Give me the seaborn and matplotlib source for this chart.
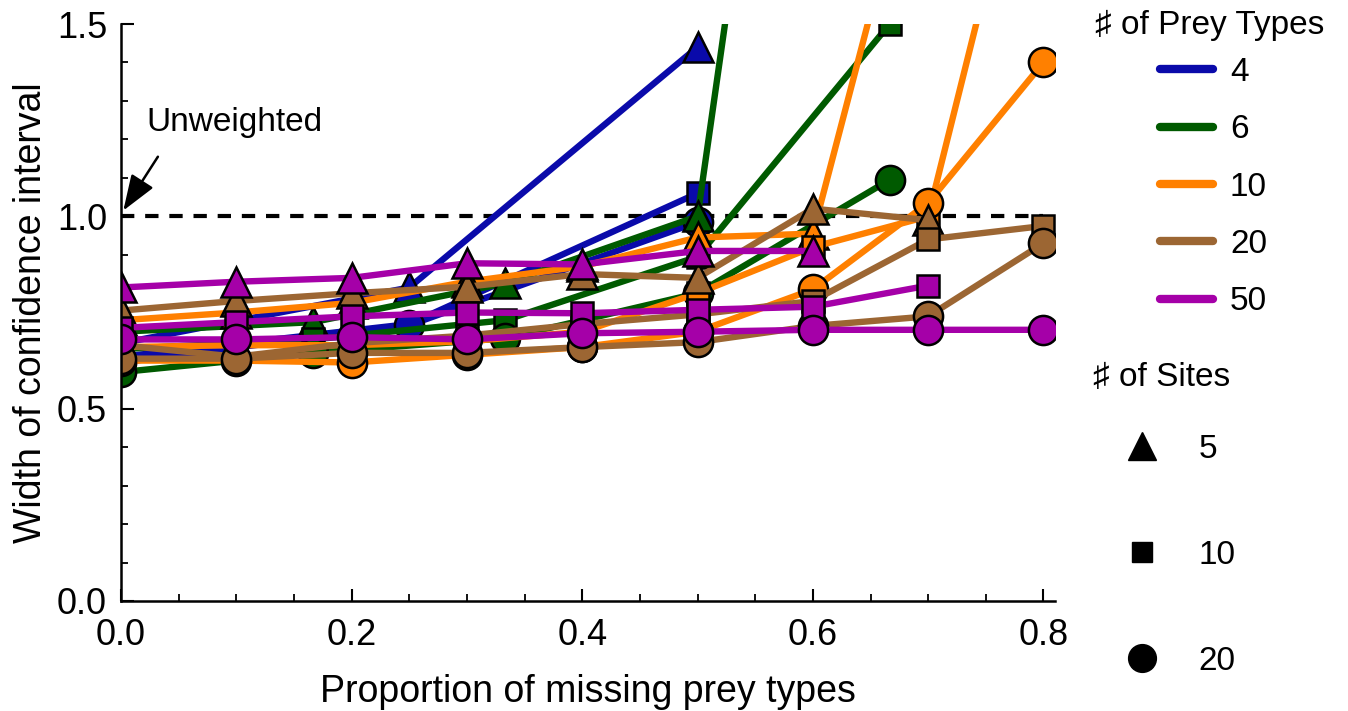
import numpy as np
import pandas as pd
import matplotlib
matplotlib.use("Agg")
import matplotlib.pyplot as plt
from matplotlib.lines import Line2D
from matplotlib.ticker import MultipleLocator
import seaborn as sns

# ---- data -------------------------------------------------------------
x_p4 = [0.0, 0.25, 0.5]
x_p6 = [0.0, 1/6, 1/3, 0.5, 2/3]
x_p10 = [0.0, 0.1, 0.2, 0.3, 0.4, 0.5, 0.6, 0.7, 0.8]

p4_s5 = [0.67, 0.815, 1.44]
p4_s10 = [0.635, 0.72, 1.06]
p4_s20 = [0.62, 0.717, 0.985]

p6_s5 = [0.70, 0.725, 0.826, 1.0, 4.5]
p6_s10 = [0.655, 0.68, 0.73, 0.895, 1.50]
p6_s20 = [0.595, 0.645, 0.683, 0.80, 1.095]

p10_s5 = [0.73, 0.75, 0.775, 0.83, 0.87, 0.945, 0.955, 2.1]
p10_s10 = [0.66, 0.665, 0.665, 0.675, 0.70, 0.80, 0.92, 1.00, 2.2]
p10_s20 = [0.625, 0.625, 0.62, 0.64, 0.66, 0.70, 0.81, 1.035, 1.40]

p20_s5 = [0.755, 0.78, 0.80, 0.817, 0.85, 0.84, 1.02, 0.99]
p20_s10 = [0.665, 0.635, 0.67, 0.69, 0.72, 0.745, 0.78, 0.94, 0.975]
p20_s20 = [0.63, 0.63, 0.645, 0.645, 0.66, 0.673, 0.715, 0.74, 0.93]

p50_s5 = [0.815, 0.83, 0.84, 0.878, 0.875, 0.91, 0.91]
p50_s10 = [0.71, 0.725, 0.74, 0.75, 0.748, 0.757, 0.765, 0.82]
p50_s20 = [0.68, 0.68, 0.686, 0.68, 0.696, 0.70, 0.705, 0.705, 0.705]

prey_types = [4, 6, 10, 20, 50]
site_counts = [5, 10, 20]
prey_colors = ["#0A0AAA", "#005A00", "#FF8000", "#9C6633", "#A500A8"]
site_markers = ["^", "s", "o"]

series = {
    (4, 5): (x_p4, p4_s5), (4, 10): (x_p4, p4_s10), (4, 20): (x_p4, p4_s20),
    (6, 5): (x_p6, p6_s5), (6, 10): (x_p6, p6_s10), (6, 20): (x_p6, p6_s20),
    (10, 5): (x_p10, p10_s5), (10, 10): (x_p10, p10_s10), (10, 20): (x_p10, p10_s20),
    (20, 5): (x_p10, p20_s5), (20, 10): (x_p10, p20_s10), (20, 20): (x_p10, p20_s20),
    (50, 5): (x_p10, p50_s5), (50, 10): (x_p10, p50_s10), (50, 20): (x_p10, p50_s20),
}

rows = []
for (p, s), (xs, ys) in series.items():
    for xv, yv in zip(xs, ys):
        rows.append({"x": xv, "y": yv, "prey": p, "sites": s})
df = pd.DataFrame(rows)

# ---- plotting ---------------------------------------------------------
sns.set_theme(style="ticks")
plt.rcParams["font.family"] = ["Liberation Sans", "DejaVu Sans"]
plt.rcParams["text.color"] = "black"
plt.rcParams["axes.labelcolor"] = "black"
plt.rcParams["xtick.color"] = "black"
plt.rcParams["ytick.color"] = "black"

FS = 26

fig = plt.figure(figsize=(13.48, 7.11), dpi=100)
ax = fig.add_axes([121/1348, 1 - 601/711, (1055 - 121)/1348, (601 - 24)/711])

ax.axhline(1.0, xmin=0, xmax=0.8/0.81, color="black", lw=3, ls=(0, (3.2, 2.6)), zorder=1)

palette = dict(zip(prey_types, prey_colors))
markers = dict(zip(site_counts, site_markers))
for p in prey_types:
    for s in site_counts:
        sub = df[(df.prey == p) & (df.sites == s)]
        sns.lineplot(data=sub, x="x", y="y", ax=ax, color=palette[p],
                     marker=markers[s], markersize=21 if s != 10 else 16,
                     markeredgecolor="black", markeredgewidth=1.8,
                     lw=4.6, legend=False, sort=False, estimator=None)

ax.set_xlim(0, 0.81)
ax.set_ylim(0, 1.5)
ax.xaxis.set_minor_locator(MultipleLocator(0.05))
ax.yaxis.set_minor_locator(MultipleLocator(0.1))
ax.set_xticks([0, 0.2, 0.4, 0.6, 0.8])
ax.set_xticklabels(["0.0", "0.2", "0.4", "0.6", "0.8"])
ax.set_yticks([0, 0.5, 1.0, 1.5])
ax.set_yticklabels(["0.0", "0.5", "1.0", "1.5"])
ax.tick_params(axis="both", which="major", direction="in", length=9, width=1.5,
               labelsize=FS, colors="black")
ax.tick_params(axis="x", which="major", pad=12)
ax.tick_params(axis="y", which="major", pad=10)
ax.tick_params(axis="both", which="minor", direction="in", length=5, width=1.3)
for sp in ["top", "right"]:
    ax.spines[sp].set_visible(False)
for sp in ["left", "bottom"]:
    ax.spines[sp].set_linewidth(1.8)
    ax.spines[sp].set_color("black")

ax.set_xlabel("Proportion of missing prey types", fontsize=FS + 1, labelpad=15)
ax.set_ylabel("Width of confidence interval", fontsize=FS + 1, labelpad=6)

ax.text(0.022, 1.245, "Unweighted", fontsize=24, ha="left", va="center")
ax.annotate("", xy=(0.002, 1.015), xytext=(0.032, 1.155),
            arrowprops=dict(arrowstyle="-|>,head_length=1.1,head_width=0.4",
                            mutation_scale=20, color="black", lw=1.8,
                            shrinkA=0, shrinkB=0))

# legends
LFS = 24
fig.text(1095/1348, 1 - 25/711, "♯ of Prey Types", fontsize=LFS,
         ha="left", va="center")
h1 = [Line2D([0], [0], color=c, lw=6) for c in prey_colors]
leg1 = fig.legend(h1, [str(p) for p in prey_types],
                  loc="upper left", bbox_to_anchor=(1160/1348, 1 - 57/711),
                  frameon=False, fontsize=LFS,
                  handlelength=1.6, handletextpad=0.5, labelspacing=0.79,
                  borderaxespad=0, borderpad=0)

fig.text(1093/1348, 1 - 378/711, "♯ of Sites", fontsize=LFS,
         ha="left", va="center")
h2 = [Line2D([0], [0], color="black", marker=m, ls="none",
             markersize=20 if m != "s" else 15) for m in site_markers]
leg2 = fig.legend(h2, [str(s) for s in site_counts],
                  loc="upper left", bbox_to_anchor=(1120/1348, 1 - 434/711),
                  frameon=False, fontsize=LFS,
                  handlelength=1.3, handletextpad=1.06, labelspacing=2.25,
                  borderaxespad=0, borderpad=0)

fig.savefig("out.png", dpi=100)
